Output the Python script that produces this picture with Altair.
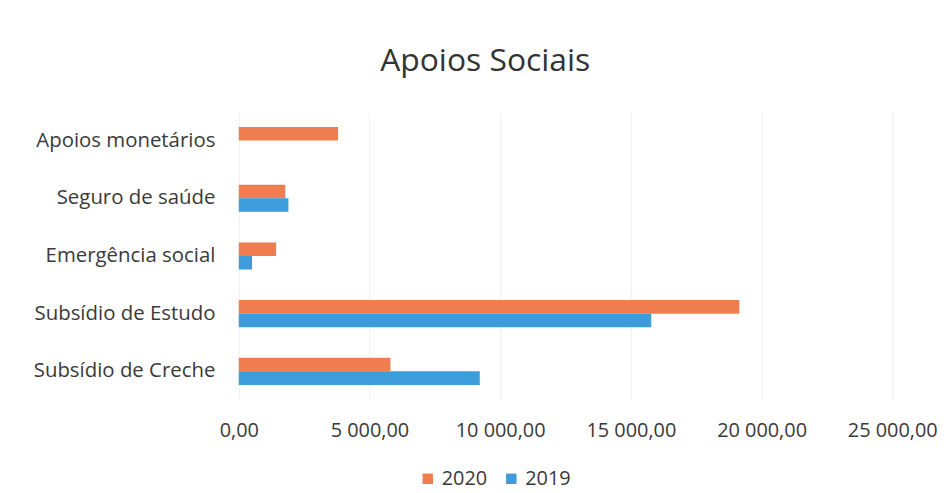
import altair as alt
import pandas as pd

categories = ["Apoios monetários", "Seguro de saúde", "Emergência social",
              "Subsídio de Estudo", "Subsídio de Creche"]
values_2020 = [3800, 1780, 1430, 19150, 5800]
values_2019 = [None, 1900, 510, 15780, 9220]
years = ["2020", "2019"]
colors = ["#EF7D4F", "#3D9DDA"]

rows = []
for c, v20, v19 in zip(categories, values_2020, values_2019):
    if v20 is not None:
        rows.append({"cat": c, "year": "2020", "value": v20})
    if v19 is not None:
        rows.append({"cat": c, "year": "2019", "value": v19})
df = pd.DataFrame(rows)

font = "Open Sans"
label_expr = "replace(replace(format(datum.value, ',.2f'), ',', ' '), '.', ',')"

chart = alt.Chart(df).mark_bar().encode(
    y=alt.Y("cat:N", sort=categories, title=None,
            scale=alt.Scale(paddingInner=0.53, paddingOuter=0.265),
            axis=alt.Axis(domain=False, ticks=False, labelFont=font, labelFontSize=20.5,
                          labelColor="#3a3a3a", labelPadding=24, grid=False,
                          labelLimit=400)),
    yOffset=alt.YOffset("year:N", sort=years),
    x=alt.X("value:Q", title=None,
            scale=alt.Scale(domain=[0, 25000], nice=False),
            axis=alt.Axis(values=[0, 5000, 10000, 15000, 20000, 25000], labelExpr=label_expr,
                          domain=False, ticks=False, labelFont=font, labelFontSize=20,
                          labelColor="#3a3a3a", labelPadding=21, gridColor="#F0F0F0",
                          labelFlush=False)),
    color=alt.Color("year:N", sort=years,
                    scale=alt.Scale(domain=years, range=colors),
                    legend=alt.Legend(title=None, orient="none", direction="horizontal",
                                      legendX=180, legendY=359, symbolType="square",
                                      symbolSize=110, labelFont=font, labelFontSize=20,
                                      labelColor="#3a3a3a", columnPadding=14,
                                      symbolStrokeWidth=0)),
).properties(
    width=657, height=290,
    background="white",
    title=alt.TitleParams("Apoios Sociais", font=font, fontSize=32, fontWeight="normal",
                          color="#333333", anchor="middle", frame="bounds", offset=34),
    autosize=alt.AutoSizeParams(type="none"),
    padding={"left": 232, "top": 103, "right": 50, "bottom": 92},
).configure_view(strokeWidth=0)

chart.save("out.html", embed_options={"renderer": "svg", "actions": False})
